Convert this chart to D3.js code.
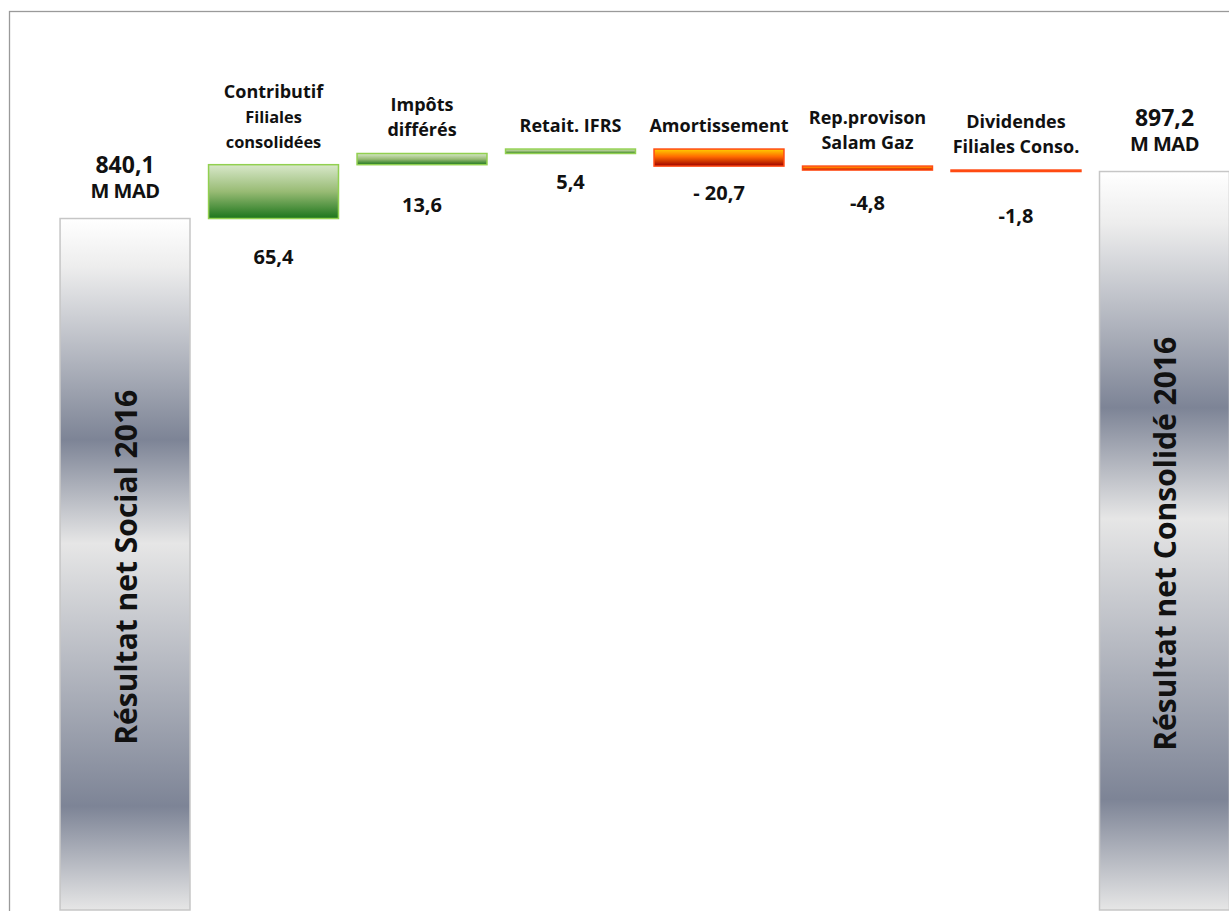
<!DOCTYPE html>
<html>
<head>
<meta charset="utf-8">
<script src="https://cdn.jsdelivr.net/npm/d3@7"></script>
<style>
    body { margin: 0; background: #fff; }
    svg { display: block; }
    text { font-family: "Open Sans", sans-serif; font-weight: 700; fill: #111; }
</style>
</head>
<body>
<div id="chart"></div>
<script>
'use strict'

const categories = ['Résultat net Social 2016', 'Contributif Filiales consolidées', 'Impôts différés',
    'Retait. IFRS', 'Amortissement', 'Rep.provison Salam Gaz', 'Dividendes Filiales Conso.',
    'Résultat net Consolidé 2016'];
const values = [840.1, 65.4, 13.6, 5.4, -20.7, -4.8, -1.8, 897.2];
const isTotal = [true, false, false, false, false, false, false, true];
const valueLabels = ['840,1', '65,4', '13,6', '5,4', '- 20,7', '-4,8', '-1,8', '897,2'];
const labelLines = [[], ['Contributif', 'Filiales', 'consolidées'], ['Impôts', 'différés'], ['Retait. IFRS'],
    ['Amortissement'], ['Rep.provison', 'Salam Gaz'], ['Dividendes', 'Filiales Conso.'], []];
const unitLabel = 'M MAD';

// hand placed value boxes in the original, distance below the bar
const valueNudge = [0, 45, 47, 36, 34, 40, 51, 0];

const W = 1229, H = 911;

const svg = d3.select('#chart')
    .append('svg')
    .attr('width', W)
    .attr('height', H);

const defs = svg.append('defs');

const addGradient = function(id, stops) {
    const g = defs.append('linearGradient')
        .attr('id', id)
        .attr('x1', 0).attr('y1', 0)
        .attr('x2', 0).attr('y2', 1);
    g.selectAll('stop')
        .data(stops)
        .enter().append('stop')
        .attr('offset', d => d[0])
        .attr('stop-color', d => d[1]);
};

addGradient('silver', [[0, '#ffffff'], [0.07, '#ededed'], [0.32, '#7d8496'], [0.47, '#e6e6e6'], [0.85, '#7d8496'], [1, '#e6e6e6']]);
addGradient('green', [[0, '#d8e8ca'], [0.5, '#98bb74'], [1, '#1c751c']]);
addGradient('red', [[0, '#ffd000'], [0.45, '#ff6a00'], [1, '#9c0000']]);

// outer frame
svg.append('rect')
    .attr('x', 9.5)
    .attr('y', 11.5)
    .attr('width', 1260)
    .attr('height', 950)
    .attr('fill', 'none')
    .attr('stroke', '#9a9a9a')
    .attr('stroke-width', 1.3);

// running total
let cum = 0;
const bars = values.map((v, i) => {
    let start, end;
    if (isTotal[i]) {
        start = 0;
        end = v;
        cum = v;
    } else {
        start = cum;
        end = cum + v;
        cum = end;
    }
    return {cat: categories[i], value: v, start: start, end: end, total: isTotal[i],
        label: valueLabels[i], lines: labelLines[i], nudge: valueNudge[i]};
});

const x = d3.scaleBand()
    .domain(categories)
    .range([41.5, 1248])
    .paddingInner(0.125)
    .paddingOuter(0.125);

const y = d3.scaleLinear()
    .domain([0, 1100])
    .range([910, 4.6]);

const fillOf = d => {
    if (d.total) return 'url(#silver)';
    if (d.value > 0) return 'url(#green)';
    return 'url(#red)';
};
const strokeOf = d => {
    if (d.total) return '#c6c6c6';
    if (d.value > 0) return '#92d050';
    return '#ff4a12';
};

svg.selectAll('.bar')
    .data(bars)
    .enter().append('rect')
    .attr('class', 'bar')
    .attr('x', d => x(d.cat))
    .attr('y', d => y(Math.max(d.start, d.end)))
    .attr('width', x.bandwidth())
    .attr('height', d => Math.max(1, Math.abs(y(d.start) - y(d.end))))
    .attr('fill', fillOf)
    .attr('stroke', strokeOf)
    .attr('stroke-width', 1.5);

const totals = bars.filter(d => d.total);
const deltas = bars.filter(d => !d.total);

// totals: value + unit above, vertical name inside
svg.selectAll('.tot-val')
    .data(totals)
    .enter().append('text')
    .attr('class', 'tot-val')
    .attr('x', d => x(d.cat) + x.bandwidth() / 2)
    .attr('y', d => y(d.end) - 46)
    .attr('text-anchor', 'middle')
    .style('font-size', '23px')
    .text(d => d.label);

svg.selectAll('.tot-unit')
    .data(totals)
    .enter().append('text')
    .attr('class', 'tot-unit')
    .attr('x', d => x(d.cat) + x.bandwidth() / 2)
    .attr('y', d => y(d.end) - 21)
    .attr('text-anchor', 'middle')
    .style('font-size', '20px')
    .style('letter-spacing', '-0.5px')
    .text(unitLabel);

svg.selectAll('.tot-name')
    .data(totals)
    .enter().append('text')
    .attr('class', 'tot-name')
    .attr('transform', d => 'translate(' + (x(d.cat) + x.bandwidth() / 2 + 12) + ',' +
        ((y(d.end) + y(0)) / 2 + 3) + ') rotate(-90)')
    .attr('text-anchor', 'middle')
    .style('font-size', '30px')
    .text(d => d.cat);

// deltas: name lines above the bar, value below
const nameGroups = svg.selectAll('.name')
    .data(deltas)
    .enter().append('text')
    .attr('class', 'name')
    .attr('text-anchor', 'middle');

nameGroups.selectAll('tspan')
    .data(d => d.lines.map((t, k) => ({t: t, k: k, n: d.lines.length, d: d})))
    .enter().append('tspan')
    .attr('x', o => x(o.d.cat) + x.bandwidth() / 2)
    .attr('y', o => y(Math.max(o.d.start, o.d.end)) - 17 - (o.n - 1 - o.k) * 25)
    .style('font-size', o => (o.n > 2 && o.k > 0) ? '16.4px' : '18px')
    .text(o => o.t);

svg.selectAll('.val')
    .data(deltas)
    .enter().append('text')
    .attr('class', 'val')
    .attr('x', d => x(d.cat) + x.bandwidth() / 2)
    .attr('y', d => y(Math.min(d.start, d.end)) + d.nudge)
    .attr('text-anchor', 'middle')
    .style('font-size', '20px')
    .text(d => d.label);
</script>
</body>
</html>
